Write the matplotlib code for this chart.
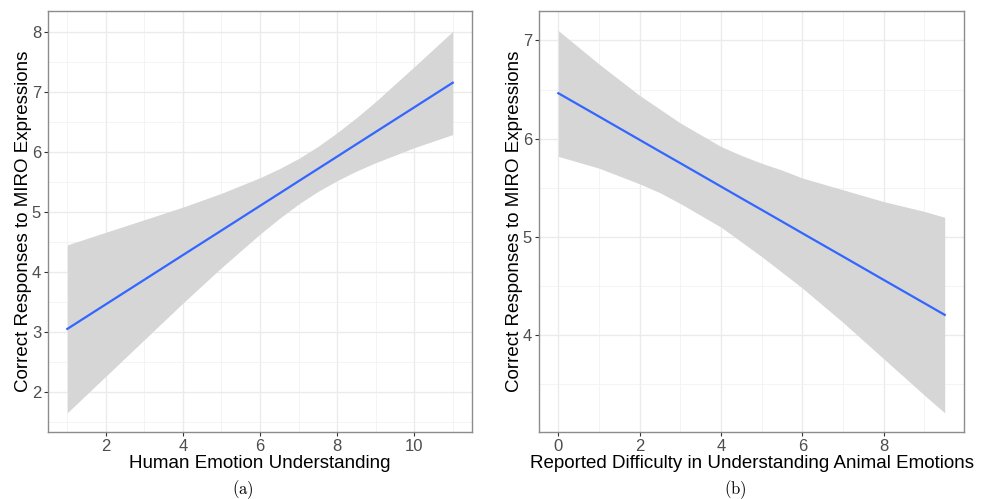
import numpy as np
import matplotlib.pyplot as plt
from matplotlib.ticker import MultipleLocator

plt.rcParams['font.family'] = ['Liberation Sans', 'DejaVu Sans']
plt.rcParams['mathtext.fontset'] = 'cm'

# panel (a): fitted line and 95% band vs human emotion understanding
xa = [1, 2, 3, 4, 5, 6, 6.5, 7, 7.5, 8, 8.5, 9, 10, 11]
fit_a = [3.048, 3.459, 3.869, 4.280, 4.690, 5.101, 5.306, 5.512, 5.717, 5.922, 6.128, 6.333, 6.743, 7.154]
hi_a = [4.45, 4.66, 4.87, 5.08, 5.31, 5.57, 5.72, 5.89, 6.09, 6.32, 6.57, 6.84, 7.42, 8.01]
lo_a = [1.65, 2.26, 2.87, 3.48, 4.07, 4.63, 4.89, 5.13, 5.34, 5.52, 5.68, 5.82, 6.07, 6.29]

# panel (b): fitted line and band vs reported difficulty
xb = [0, 1, 2, 2.5, 3, 3.5, 4, 4.5, 5, 5.5, 6, 7, 8, 9, 9.5]
fit_b = [6.463, 6.226, 5.988, 5.869, 5.751, 5.632, 5.513, 5.394, 5.276, 5.157, 5.038, 4.801, 4.563, 4.326, 4.207]
hi_b = [7.10, 6.76, 6.44, 6.30, 6.16, 6.04, 5.92, 5.83, 5.75, 5.68, 5.60, 5.48, 5.36, 5.26, 5.20]
lo_b = [5.82, 5.70, 5.54, 5.45, 5.34, 5.22, 5.10, 4.95, 4.80, 4.64, 4.48, 4.13, 3.76, 3.39, 3.21]

ylab = "Correct Responses to MIRO Expressions"
xlab_a = "Human Emotion Understanding"
xlab_b = "Reported Difficulty in Understanding Animal Emotions"

fig = plt.figure(figsize=(9.84, 4.99), dpi=100)
ax1 = fig.add_axes([0.0488, 0.1343, 0.4309, 0.8437])
ax2 = fig.add_axes([0.5478, 0.1343, 0.4319, 0.8437])


def panel(ax, x, fit, lo, hi, xlim, ylim, xmaj, ymaj, xlab):
    ax.fill_between(x, lo, hi, color="#d6d6d6", lw=0, zorder=2)
    ax.plot(x, fit, color="#3366ff", lw=1.6, zorder=3)
    ax.set_xlim(*xlim)
    ax.set_ylim(*ylim)
    ax.xaxis.set_major_locator(MultipleLocator(xmaj))
    ax.xaxis.set_minor_locator(MultipleLocator(xmaj / 2))
    ax.yaxis.set_major_locator(MultipleLocator(ymaj))
    ax.yaxis.set_minor_locator(MultipleLocator(ymaj / 2))
    ax.grid(which="major", color="#ebebeb", lw=1.0, zorder=0)
    ax.grid(which="minor", color="#f2f2f2", lw=0.6, zorder=0)
    ax.set_axisbelow(True)
    ax.tick_params(which="major", length=3, width=0.8, color="#333333",
                   labelsize=12, labelcolor="#4d4d4d", pad=2)
    ax.tick_params(which="minor", length=0)
    for s in ax.spines.values():
        s.set_color("#8c8c8c")
        s.set_linewidth(1.0)
    ax.set_xlabel(xlab, fontsize=13.5, labelpad=1)
    ax.set_ylabel(ylab, fontsize=13.5, labelpad=0)


panel(ax1, xa, fit_a, lo_a, hi_a, (0.5, 11.5), (1.33, 8.35), 2, 1, xlab_a)
panel(ax2, xb, fit_b, lo_b, hi_b, (-0.475, 9.975), (3.015, 7.30), 2, 1, xlab_b)

fig.text(0.247, 0.01, r"$\mathrm{(a)}$", ha="center", fontsize=12)
fig.text(0.747, 0.01, r"$\mathrm{(b)}$", ha="center", fontsize=12)

fig.savefig("out.png", dpi=100)
